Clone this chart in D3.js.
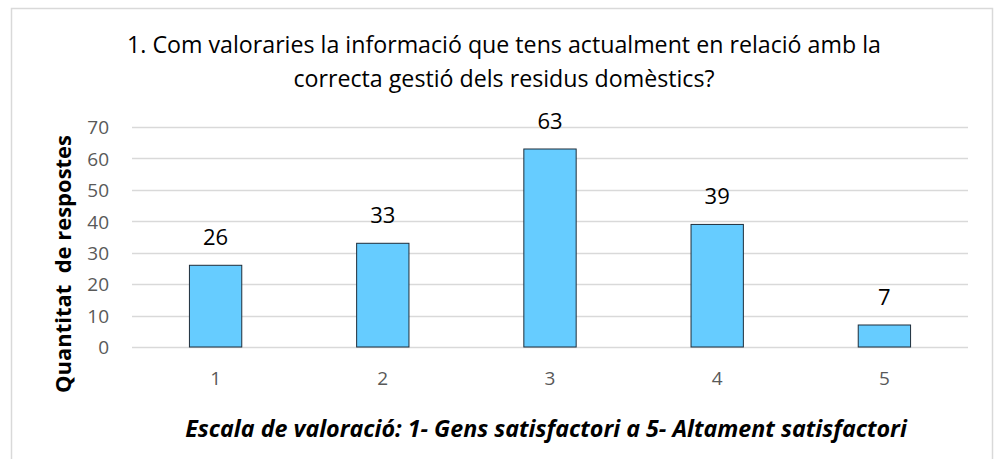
<!DOCTYPE html>
<html><head><meta charset="utf-8">
<script src="https://cdn.jsdelivr.net/npm/d3@7"></script>
<style>
html,body{margin:0;padding:0;background:#fff;}
svg{display:block;font-family:"Open Sans", sans-serif;font-variant-ligatures:none;}
</style></head>
<body>
<svg id="chart" width="1002" height="459"></svg>
<script>
const categories = ["1","2","3","4","5"];
const values = [26, 33, 63, 39, 7];
const yTicks = [0,10,20,30,40,50,60,70];
const titleLines = ["1. Com valoraries la informació que tens actualment en relació amb la", "correcta gestió dels residus domèstics?"];
const yTitle = "Quantitat  de respostes";
const xTitle = "Escala de valoració: 1- Gens satisfactori a 5- Altament satisfactori";

const svg = d3.select("#chart");
const plot = {left:132, right:968, top:127, bottom:347};

function fit(sel, target){
  const n = sel.node();
  const fs = parseFloat(sel.attr("font-size"));
  const w = n.getComputedTextLength();
  sel.attr("font-size", (fs*target/w).toFixed(2));
}

svg.append("rect").attr("x",11.5).attr("y",8.5).attr("width",981).attr("height",460)
  .attr("fill","#fff").attr("stroke","#d9d9d9").attr("stroke-width",1.5);

const x = d3.scaleBand().domain(categories).range([plot.left, plot.right]).paddingInner(0.687).paddingOuter(0.3435);
const y = d3.scaleLinear().domain([0,70]).range([plot.bottom, plot.top]);

// gridlines
svg.append("g").selectAll("line").data(yTicks).join("line")
  .attr("x1",plot.left).attr("x2",plot.right)
  .attr("y1",d=>Math.round(y(d))+0.5).attr("y2",d=>Math.round(y(d))+0.5)
  .attr("stroke","#d9d9d9").attr("stroke-width",1.3);

// y axis labels
const yAxis = d3.axisLeft(y).tickValues(yTicks).tickSize(0).tickPadding(0);
const gy = svg.append("g").attr("transform",`translate(109,0)`).call(yAxis);
gy.select(".domain").remove();
gy.selectAll("text").attr("fill","#595959").attr("font-size",19).attr("font-family","'Open Sans', sans-serif").attr("dy","0.36em");

// x axis labels
const xAxis = d3.axisBottom(x).tickSize(0).tickPadding(0);
const gx = svg.append("g").attr("transform",`translate(0,385)`).call(xAxis);
gx.select(".domain").remove();
gx.selectAll("text").attr("fill","#595959").attr("font-size",19).attr("font-family","'Open Sans', sans-serif").attr("dy",0);

// bars
svg.append("g").selectAll("rect").data(values).join("rect")
  .attr("x",(d,i)=>x(categories[i]))
  .attr("y",d=>y(d))
  .attr("width",x.bandwidth())
  .attr("height",d=>plot.bottom - y(d))
  .attr("fill","#66ccff").attr("stroke","#1f2d3a").attr("stroke-width",1);

// data labels
svg.append("g").selectAll("text").data(values).join("text")
  .attr("x",(d,i)=>x(categories[i])+x.bandwidth()/2)
  .attr("y",d=>y(d)-20)
  .attr("text-anchor","middle").attr("font-size",22).attr("fill","#000")
  .text(d=>d);

// title
const tl = svg.append("g").selectAll("text").data(titleLines).join("text")
  .attr("x",504).attr("y",(d,i)=>53+i*34)
  .attr("text-anchor","middle").attr("font-size",20).attr("fill","#000")
  .text(d=>d);
const t0 = d3.select(tl.nodes()[0]);
fit(t0, 754);
d3.select(tl.nodes()[1]).attr("font-size", t0.attr("font-size"));

// y title
const yt = svg.append("text").attr("transform","translate(71,264) rotate(-90)")
  .attr("text-anchor","middle").attr("font-size",19).attr("font-weight","bold").attr("fill","#000")
  .attr("xml:space","preserve").style("white-space","pre")
  .text(yTitle);
fit(yt, 258);

// x title
const xt = svg.append("text").attr("x",546).attr("y",437)
  .attr("text-anchor","middle").attr("font-size",20).attr("font-weight","bold").attr("font-style","italic").attr("fill","#000")
  .text(xTitle);
fit(xt, 722);
</script>
</body></html>
